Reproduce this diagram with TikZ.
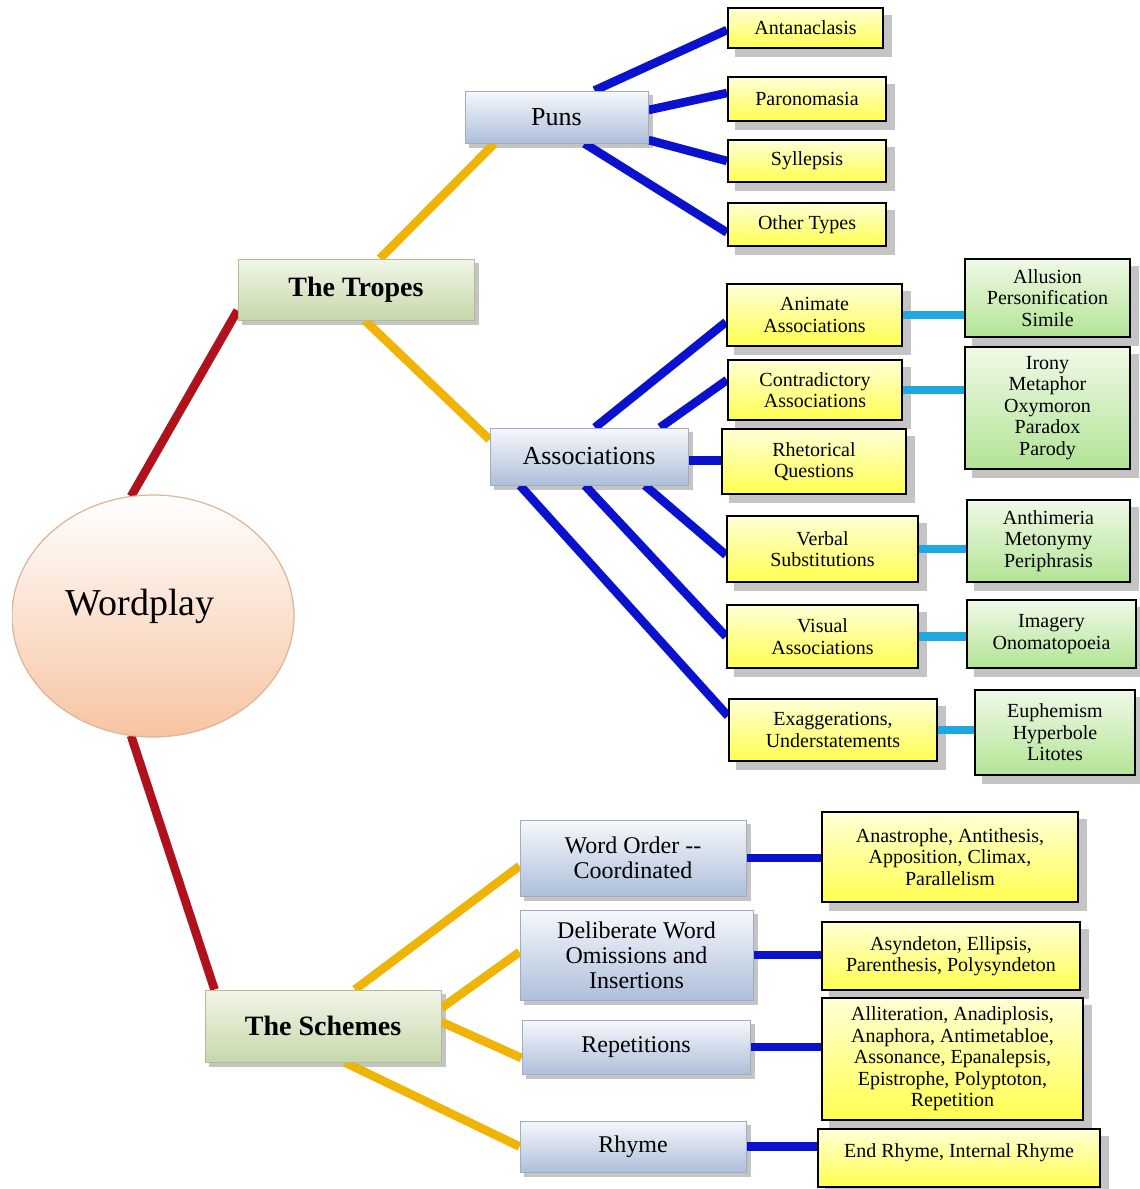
\documentclass[tikz,border=0pt]{standalone}
\usepackage{fontspec}
\setmainfont{Liberation Serif}
\usetikzlibrary{calc,shapes.geometric,backgrounds}
\pgfdeclarelayer{bglayer}
\pgfdeclarelayer{shadowlayer}
\pgfdeclarelayer{lines}
\pgfsetlayers{bglayer,shadowlayer,lines,main}
\definecolor{redc}{HTML}{B0121B}
\definecolor{orc}{HTML}{F0B407}
\definecolor{bluec}{HTML}{0A12D0}
\definecolor{lbc}{HTML}{1EA8E0}
\definecolor{shadowc}{HTML}{C4C4C4}
\definecolor{ytop}{HTML}{FFFFD6}
\definecolor{ybot}{HTML}{FFFF50}
\definecolor{gtop}{HTML}{F0F9E8}
\definecolor{gbot}{HTML}{B2E494}
\definecolor{btop}{HTML}{F6F8FC}
\definecolor{bbot}{HTML}{AEBFDA}
\definecolor{bedge}{HTML}{A0ACC0}
\definecolor{ttop}{HTML}{F1F5E8}
\definecolor{tbot}{HTML}{C6D8AA}
\definecolor{tedge}{HTML}{B0BC98}
\definecolor{etop}{HTML}{FFFFFF}
\definecolor{ebot}{HTML}{F7C4A2}
\definecolor{eedge}{HTML}{DDB496}
\newcommand\mybox[8]{%
  \node[#6, minimum width={(#4-#2)*0.5pt}, minimum height={(#5-#3)*0.5pt}] (#1) at ({(#2+#4)/2},{(#3+#5)/2}) {#8};
  \begin{pgfonlayer}{shadowlayer}
    \fill[shadowc] ($(#1.south west)+(#7,#7)$) rectangle ($(#1.north east)+(#7,#7)$);
  \end{pgfonlayer}}
\tikzset{
  base/.style={rectangle, inner sep=0pt, align=center},
  yel/.style={base, draw=black, line width=1pt, top color=ytop, bottom color=ybot, font=\fontsize{10}{10.75}\selectfont},
  grn/.style={base, draw=black, line width=1pt, top color=gtop, bottom color=gbot, font=\fontsize{10}{10.75}\selectfont},
  blu/.style={base, draw=bedge, line width=0.5pt, top color=btop, bottom color=bbot, font=\fontsize{12}{12.5}\selectfont},
  bigblu/.style={blu, font=\fontsize{13}{14}\selectfont},
  tit/.style={base, draw=tedge, line width=0.5pt, top color=ttop, bottom color=tbot, font=\fontsize{14}{16}\selectfont\bfseries},
  conn/.style={line width=4.3pt},
  redl/.style={conn, draw=redc},
  orl/.style={conn, draw=orc},
  bll/.style={conn, draw=bluec},
  lbl/.style={conn, draw=lbc},
}
\begin{document}
\begin{tikzpicture}[x=0.5pt,y=-0.5pt]
\begin{pgfonlayer}{bglayer}
\fill[white] (0,0) rectangle (1140,1189);
\end{pgfonlayer}
\useasboundingbox (0,0) rectangle (1140,1189);
% central ellipse
\begin{scope}
\clip (12,0) rectangle (1140,1189);
\node[ellipse, minimum width=141pt, minimum height=121pt, inner sep=0pt, draw=eedge, line width=0.6pt, top color=etop, bottom color=ebot] (wp) at (153,616) {};
\end{scope}
\node[inner sep=0pt, font=\fontsize{19}{22}\selectfont] (wpt) at (140,606) {Wordplay};
% level 1
\mybox{tro}{238}{259}{474}{320}{tit}{4}{The Tropes}
\mybox{sch}{205}{990}{441}{1062}{tit}{4}{The Schemes}
% level 2
\mybox{puns}{465}{91}{648}{143}{bigblu}{4}{Puns}
\mybox{asc}{490}{428}{688}{485}{bigblu}{4}{Associations}
\mybox{wo}{520}{820}{746}{896}{blu}{4}{Word Order {-}{-}\\Coordinated}
\mybox{del}{520}{910}{753}{1000}{blu}{4}{Deliberate Word\\Omissions and\\Insertions}
\mybox{rep}{522}{1020}{750}{1074}{blu}{4}{Repetitions}
\mybox{rhy}{520}{1121}{746}{1172}{blu}{4}{Rhyme}
% yellow leaves
\mybox{ant}{728}{8}{883}{48}{yel}{8}{Antanaclasis}
\mybox{par}{728}{77}{886}{121}{yel}{8}{Paronomasia}
\mybox{syl}{728}{140}{886}{182}{yel}{8}{Syllepsis}
\mybox{oth}{728}{203}{886}{246}{yel}{8}{Other Types}
\mybox{ani}{727}{284}{902}{346}{yel}{8}{Animate\\Associations}
\mybox{con}{728}{360}{902}{420}{yel}{8}{Contradictory\\Associations}
\mybox{rhe}{722}{429}{906}{494}{yel}{8}{Rhetorical\\Questions}
\mybox{ver}{727}{516}{918}{582}{yel}{8}{Verbal\\Substitutions}
\mybox{vis}{727}{605}{918}{668}{yel}{8}{Visual\\Associations}
\mybox{exa}{729}{699}{937}{761}{yel}{8}{Exaggerations,\\Understatements}
\mybox{wol}{822}{812}{1078}{902}{yel}{8}{Anastrophe, Antithesis,\\Apposition, Climax,\\Parallelism}
\mybox{asy}{822}{922}{1080}{990}{yel}{8}{Asyndeton, Ellipsis,\\Parenthesis, Polysyndeton}
\mybox{all}{822}{998}{1083}{1120}{yel}{8}{Alliteration, Anadiplosis,\\Anaphora, Antimetabloe,\\Assonance, Epanalepsis,\\Epistrophe, Polyptoton,\\Repetition}
\mybox{end}{818}{1129}{1100}{1187}{yel}{8}{End Rhyme, Internal Rhyme\\[-3.75pt]\mbox{}}
% green leaves
\mybox{alu}{965}{259}{1130}{337}{grn}{8}{Allusion\\Personification\\Simile}
\mybox{iro}{965}{347}{1130}{469}{grn}{8}{Irony\\Metaphor\\Oxymoron\\Paradox\\Parody}
\mybox{anm}{967}{500}{1130}{582}{grn}{8}{Anthimeria\\Metonymy\\Periphrasis}
\mybox{ima}{967}{600}{1136}{668}{grn}{8}{Imagery\\Onomatopoeia}
\mybox{eup}{975}{690}{1135}{775}{grn}{8}{Euphemism\\Hyperbole\\Litotes}
% connectors
\begin{pgfonlayer}{lines}
\draw[redl] ($(wp.north)+(-22,2)$) -- ($(tro.south west)+(0,-10)$);
\draw[redl] ($(wp.south)+(-22,-2)$) -- ($(sch.north west)+(10,0)$);
\draw[orl] ($(tro.north)+(24,0)$) -- ($(puns.south west)+(30,0)$);
\draw[orl] ($(tro.south)+(9,0)$) -- ($(asc.north west)+(0,12)$);
\draw[orl] ($(sch.north)+(32,0)$) -- ($(wo.west)+(0,8)$);
\draw[orl] ($(sch.east)+(0,-18)$) -- ($(del.west)+(0,-3)$);
\draw[orl] ($(sch.east)+(0,-4)$) -- ($(rep.west)+(0,11)$);
\draw[orl] ($(sch.south)+(22,0)$) -- (rhy.west);
\draw[bll] ($(puns.north)+(38,0)$) -- ($(ant.west)+(0,2)$);
\draw[bll] ($(puns.east)+(0,-7)$) -- ($(par.west)+(0,-6)$);
\draw[bll] ($(puns.east)+(0,23)$) -- (syl.west);
\draw[bll] ($(puns.south)+(28,0)$) -- ($(oth.west)+(0,8)$);
\draw[bll] ($(asc.north)+(6,0)$) -- ($(ani.west)+(0,7)$);
\draw[bll] ($(asc.north)+(71,0)$) -- ($(con.west)+(0,-10)$);
\draw[bll] ($(asc.east)+(0,4)$) -- ($(rhe.west)+(0,-1)$);
\draw[bll] ($(asc.south)+(56,0)$) -- ($(ver.west)+(0,6)$);
\draw[bll] ($(asc.south)+(-4,0)$) -- (vis.west);
\draw[bll] ($(asc.south)+(-69,0)$) -- ($(exa.west)+(0,-14)$);
\draw[lbl] (ani.east) -- (ani.east -| alu.west);
\draw[lbl] (con.east) -- (con.east -| iro.west);
\draw[lbl] (ver.east) -- (ver.east -| anm.west);
\draw[lbl] (vis.east) -- (vis.east -| ima.west);
\draw[lbl] (exa.east) -- (exa.east -| eup.west);
\draw[bll] (wo.east) -- (wo.east -| wol.west);
\draw[bll] (del.east) -- (del.east -| asy.west);
\draw[bll] (rep.east) -- (rep.east -| all.west);
\draw[bll] (rhy.east) -- (rhy.east -| end.west);
\end{pgfonlayer}
\end{tikzpicture}
\end{document}
